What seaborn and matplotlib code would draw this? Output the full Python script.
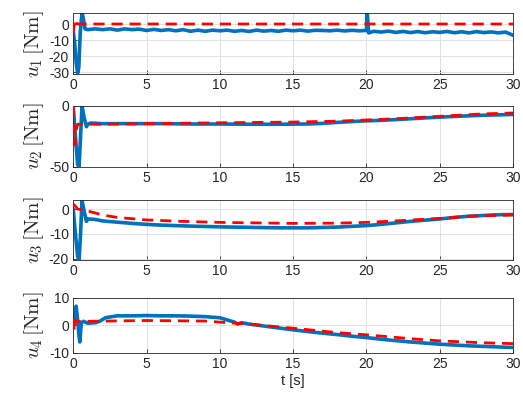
import pandas as pd
import seaborn as sns
from matplotlib import pyplot as plt

# u1
t1 = [0.0, 0.1, 0.2, 0.3, 0.38, 0.48, 0.6, 0.7, 0.8, 1.0,
      1.5, 2.0, 2.5, 3.0, 3.5, 4.0, 4.5, 5.0, 5.5, 6.0,
      6.5, 7.0, 7.5, 8.0, 8.5, 9.0, 9.5, 10.0, 10.5, 11.0,
      11.5, 12.0, 12.5, 13.0, 13.5, 14.0, 14.5, 15.0, 15.5, 16.0,
      16.5, 17.0, 17.5, 18.0, 18.5, 19.0, 19.5, 20.0, 20.05, 20.15,
      20.5, 21.0, 21.5, 22.0, 22.5, 23.0, 23.5, 24.0, 24.5, 25.0,
      25.5, 26.0, 26.5, 27.0, 27.5, 28.0, 28.5, 29.0, 29.5, 30.0]
u1 = [-4, -12, -24, -30.5, -27, -5, 7, 3, -3, -3.5,
      -3, -3.5, -3, -3.8, -3, -3.5, -3.2, -4, -3.3, -4,
      -3.5, -4.2, -3.5, -4.5, -3.8, -4.5, -3.8, -4.2, -3.8, -4.5,
      -4, -4.6, -3.8, -4.4, -4, -4.5, -3.8, -4.2, -3.8, -4.4,
      -3.9, -4, -4.2, -3.8, -4.3, -3.9, -4.2, -4, 7.5, -5.5,
      -4.5, -5, -4.4, -5.2, -4.6, -5.3, -4.7, -5.4, -4.8, -5.2,
      -4.6, -5.4, -4.8, -5.5, -4.7, -5.3, -4.9, -5.5, -5, -7]
t1_ref = [0, 0.05, 0.12, 0.2, 0.3, 30]
u1_ref = [-6, -2, 3, 1, 0, 0]

# u2
t2 = [0.0, 0.15, 0.3, 0.4, 0.5, 0.6, 0.75, 0.9, 1.0, 1.2,
      2, 4, 6, 8, 10, 12, 14, 16, 17, 18,
      19, 20, 21, 22, 23, 24, 25, 26, 27, 28,
      29, 30]
u2 = [0, -25, -48, -50, -25, 0, -10, -17, -15, -14,
      -14.5, -14.5, -14.5, -14.8, -14.8, -15, -15, -14.8, -14.3, -13.5,
      -12.8, -12.2, -11.8, -11.2, -10.5, -9.8, -9.2, -8.6, -8.1, -7.6,
      -7.3, -7]
t2_ref = [0, 0.05, 0.12, 0.2, 0.3, 2, 5, 10, 15, 18, 20, 22, 25, 28, 30]
u2_ref = [0, -20, -32, -20, -15, -15, -14.5, -13.8, -13.2, -12.5, -11.5, -10.5, -8.5, -6.5, -5.8]

# u3
t3 = [0.0, 0.15, 0.3, 0.4, 0.5, 0.6, 0.75, 0.9, 1.0, 1.5,
      2, 3, 4, 5, 6, 7, 8, 10, 12, 14,
      16, 18, 19, 20, 21, 22, 23, 24, 25, 26,
      27, 28, 29, 30]
u3 = [0, -10, -19, -21, -10, 3.5, -1, -5, -4, -4.2,
      -4.8, -5.3, -5.8, -6.2, -6.5, -6.7, -6.9, -7.2, -7.4, -7.6,
      -7.6, -7.3, -7, -6.7, -6.2, -5.6, -5, -4.5, -4, -3.4,
      -2.9, -2.6, -2.3, -2.2]
t3_ref = [0, 0.1, 0.3, 1, 2, 3, 5, 7.5, 10, 15, 18, 20, 22, 25, 27, 30]
u3_ref = [2, 1.5, 0, -0.8, -2.4, -3.4, -4.4, -5, -5.4, -5.8, -5.7, -5.4, -4.8, -3.8, -2.9, -2.4]

# u4
t4 = [0.0, 0.1, 0.2, 0.3, 0.4, 0.45, 0.55, 0.7, 1.0, 1.5,
      1.8, 2.2, 3, 4, 5, 6, 7, 8, 9, 10,
      10.5, 11, 11.2, 11.5, 12, 13, 14, 15, 16, 17,
      18, 19, 20, 21, 22, 23, 24, 25, 26, 27,
      28, 29, 30]
u4 = [1, 3, 7, 2, -4, -6, 1, 1.5, 0.8, 1,
      1.5, 2.8, 3.5, 3.5, 3.6, 3.5, 3.5, 3.4, 3.2, 2.8,
      2, 1.2, 0.5, 1, 0.5, -0.2, -0.9, -1.6, -2.2, -2.8,
      -3.3, -3.9, -4.4, -5, -5.5, -6, -6.4, -6.8, -7.1, -7.4,
      -7.6, -7.8, -8]
t4_ref = [0, 0.08, 0.15, 0.3, 1, 5, 9, 10, 12, 13, 15, 18, 20, 23, 25, 28, 30]
u4_ref = [2.5, -2, 2, 1.5, 1.5, 1.8, 1.6, 1.2, 0.5, 0, -1, -2.6, -3.4, -4.8, -5.6, -6.3, -6.6]

x_ticks = [0, 5, 10, 15, 20, 25, 30]
panels = [
    (t1, u1, t1_ref, u1_ref, (-31, 6.6), [-30, -20, -10, 0], r'$u_1\,[\mathrm{Nm}]$'),
    (t2, u2, t2_ref, u2_ref, (-50, 0), [-50, 0], r'$u_2\,[\mathrm{Nm}]$'),
    (t3, u3, t3_ref, u3_ref, (-20.6, 3.6), [-20, -10, 0], r'$u_3\,[\mathrm{Nm}]$'),
    (t4, u4, t4_ref, u4_ref, (-10, 10), [-10, 0, 10], r'$u_4\,[\mathrm{Nm}]$'),
]

sns.set_style("ticks")
plt.rcParams['font.family'] = ['Liberation Sans', 'DejaVu Sans']
plt.rcParams['font.size'] = 10
plt.rcParams['mathtext.fontset'] = 'cm'
plt.rcParams['axes.unicode_minus'] = False

fig = plt.figure(figsize=(5.23, 3.99), dpi=100)
# axes boxes in figure coordinates (left, bottom, width, height)
boxes = [
    (0.140, 0.8145, 0.841, 0.152),
    (0.140, 0.5815, 0.841, 0.153),
    (0.140, 0.3484, 0.841, 0.150),
    (0.140, 0.1153, 0.841, 0.138),
]

for box, (t, u, tr, ur, ylim, yt, ylab) in zip(boxes, panels):
    ax = fig.add_axes(box)
    df = pd.DataFrame({"t": t, "u": u})
    df_ref = pd.DataFrame({"t": tr, "u": ur})
    sns.lineplot(data=df, x="t", y="u", ax=ax, color="#0072BD", lw=2.6,
                 estimator=None, sort=False, zorder=2)
    sns.lineplot(data=df_ref, x="t", y="u", ax=ax, color="#FF0000", lw=2.0,
                 estimator=None, sort=False, zorder=3, dashes=False)
    ax.lines[-1].set_dashes((4, 2.5))
    ax.set_xlim(0, 30)
    ax.set_ylim(*ylim)
    ax.set_xticks(x_ticks)
    ax.set_yticks(yt)
    ax.grid(True, color="#dcdcdc", lw=0.6)
    ax.set_axisbelow(True)
    for s in ax.spines.values():
        s.set_visible(True)
        s.set_linewidth(0.6)
        s.set_color("#262626")
    ax.tick_params(direction="in", length=3, width=0.6, colors="#262626",
                   labelsize=10, pad=3)
    ax.set_ylabel(ylab, fontsize=15, labelpad=2)
    ax.set_xlabel("")

ax.set_xlabel("t [s]", fontsize=10.5, labelpad=2)

plt.savefig("out.png", dpi=100)
